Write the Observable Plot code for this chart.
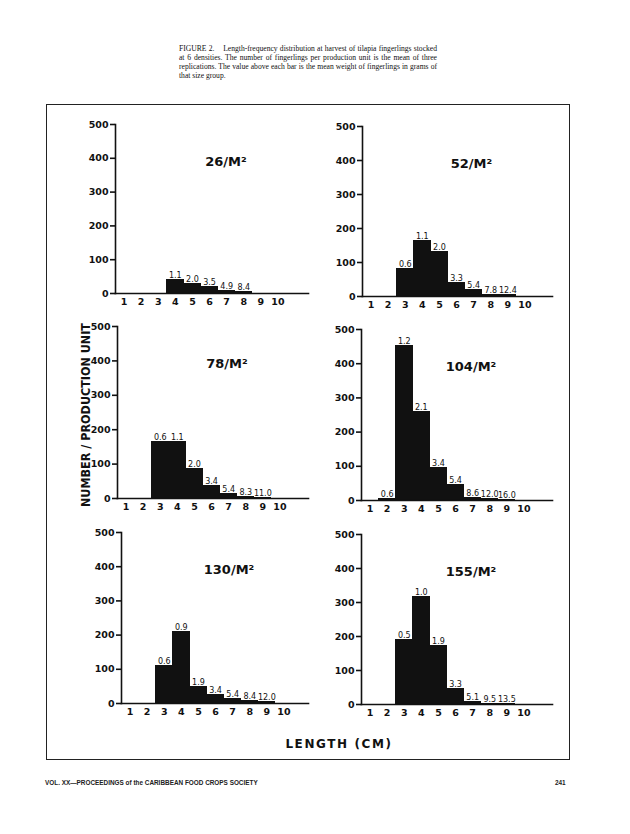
<!DOCTYPE html>
<html>
<head>
<meta charset="utf-8">
<script src="https://cdn.jsdelivr.net/npm/d3@7"></script>
<script src="https://cdn.jsdelivr.net/npm/@observablehq/plot@0.6"></script>
<style>
  html, body { margin: 0; padding: 0; background: #fff; }
  #page { position: relative; width: 630px; height: 834px; overflow: hidden; background: #fff; color: #111; }
  #caption { position: absolute; left: 179px; top: 44px; width: 258px; font-family: "Liberation Serif", "DejaVu Serif", serif; font-size: 7.6px; line-height: 9px; color: #111; }
  #caption div { text-align: justify; text-align-last: justify; white-space: nowrap; }
  #caption div.last { text-align-last: left; }
  #box { position: absolute; left: 46px; top: 104px; width: 522px; height: 654px; border: 1.5px solid #222; }
  .panel { position: absolute; }
  #ylabel { position: absolute; left: 76px; top: 318px; overflow: visible; }
  #xlabel { position: absolute; left: 339px; top: 744px; transform: translate(-50%, -50%); font-family: "DejaVu Sans", sans-serif; font-weight: bold; font-size: 12px; letter-spacing: 1.6px; white-space: nowrap; color: #111; }
  #footer { position: absolute; left: 45px; top: 779px; font-family: "Liberation Sans", sans-serif; font-weight: bold; font-size: 6.4px; color: #222; white-space: nowrap; }
  #pageno { position: absolute; left: 555px; top: 779px; font-family: "Liberation Sans", sans-serif; font-weight: bold; font-size: 6.4px; color: #222; }
</style>
</head>
<body>
<div id="page">
  <div id="caption">
    <div>FIGURE 2.&nbsp;&nbsp;&nbsp; Length-frequency distribution at harvest of tilapia fingerlings stocked</div>
    <div>at 6 densities. The number of fingerlings per production unit is the mean of three</div>
    <div>replications. The value above each bar is the mean weight of fingerlings in grams of</div>
    <div class="last">that size group.</div>
  </div>
  <div id="box"></div>
  <svg id="ylabel" width="20" height="195">
    <text transform="translate(13.5,97) rotate(-90)" text-anchor="middle" textLength="184" lengthAdjust="spacingAndGlyphs"
      font-family="DejaVu Sans, sans-serif" font-weight="bold" font-size="12.5" fill="#111">NUMBER / PRODUCTION UNIT</text>
  </svg>
  <div id="xlabel">LENGTH (CM)</div>
  <div id="footer">VOL. XX—PROCEEDINGS of the CARIBBEAN FOOD CROPS SOCIETY</div>
  <div id="pageno">241</div>
</div>
<script>
// ---- data ----
const lengths = [1, 2, 3, 4, 5, 6, 7, 8, 9, 10];
const xTicks = [1, 2, 3, 4, 5, 6, 7, 8, 9, 10];
const yTicks = [0, 100, 200, 300, 400, 500];

const titles = ["26/M²", "52/M²", "78/M²", "104/M²", "130/M²", "155/M²"];

// number of fingerlings per production unit, per length class (1..10 cm)
const count26  = [0, 0, 0,   40,  27,  20,  6,  3, 0, 0];
const count52  = [0, 0, 80,  162, 132, 41,  18, 5, 3, 0];
const count78  = [0, 0, 165, 165, 87,  36,  12, 3, 1, 0];
const count104 = [0, 5, 453, 258, 96,  44,  8,  4, 2, 0];
const count130 = [0, 0, 111, 209, 49,  25,  12, 7, 3, 0];
const count155 = [0, 0, 191, 316, 171, 46,  8,  2, 1, 0];

// mean weight (g) written above each bar
const weight26  = ["", "", "",    "1.1", "2.0", "3.5", "4.9", "8.4", "",     ""];
const weight52  = ["", "", "0.6", "1.1", "2.0", "3.3", "5.4", "7.8", "12.4", ""];
const weight78  = ["", "", "0.6", "1.1", "2.0", "3.4", "5.4", "8.3", "11.0", ""];
const weight104 = ["", "0.6", "1.2", "2.1", "3.4", "5.4", "8.6", "12.0", "16.0", ""];
const weight130 = ["", "", "0.6", "0.9", "1.9", "3.4", "5.4", "8.4", "12.0", ""];
const weight155 = ["", "", "0.5", "1.0", "1.9", "3.3", "5.1", "9.5", "13.5", ""];

const counts = [count26, count52, count78, count104, count130, count155];
const weights = [weight26, weight52, weight78, weight104, weight130, weight155];

// ---- layout (page pixels: y-axis x, y of 500, y of 0, end of baseline) ----
const layouts = [
  {ax: 115, y500: 124, y0: 293, xEnd: 308},
  {ax: 362, y500: 126, y0: 296, xEnd: 552},
  {ax: 117, y500: 326, y0: 498, xEnd: 308},
  {ax: 361, y500: 329, y0: 500, xEnd: 552},
  {ax: 121, y500: 532, y0: 703, xEnd: 308},
  {ax: 361, y500: 534, y0: 704, xEnd: 552}
];

const ML = 36, MR = 6, MT = 8, MB = 18;
const page = document.getElementById("page");

counts.forEach((cs, k) => {
  const L = layouts[k];
  const data = lengths.map((len, i) => ({len, count: cs[i], w: weights[k][i]})).filter(d => d.count > 0);
  const plotW = L.xEnd - L.ax;
  const unit = 17.1;
  const chart = Plot.plot({
    width: ML + plotW + MR,
    height: MT + (L.y0 - L.y500) + MB,
    marginLeft: ML, marginRight: MR, marginTop: MT, marginBottom: MB,
    x: {domain: [0.5, 0.5 + plotW / unit], axis: null},
    y: {domain: [0, 500], axis: null},
    style: {fontFamily: "DejaVu Sans, sans-serif", fontSize: "9.5px", fontWeight: "bold", color: "#111", background: "transparent", overflow: "visible"},
    marks: [
      Plot.rectY(data, {x1: d => d.len - 0.5, x2: d => d.len + 0.5, y1: 0, y2: "count", fill: "#111", stroke: "#111", strokeWidth: 1, inset: 0, shapeRendering: "crispEdges"}),
      Plot.frame({anchor: "left", stroke: "#111", strokeWidth: 1.6}),
      Plot.frame({anchor: "bottom", stroke: "#111", strokeWidth: 1.6}),
      Plot.axisY(yTicks, {label: null, tickSize: 5, tickPadding: 2, strokeWidth: 1.6, fontWeight: "bold", fontSize: 9.5, fill: "#111", tickFormat: d => String(d)}),
      Plot.axisX(xTicks, {label: null, tickSize: 0, tickPadding: 5, fontWeight: "bold", fontSize: 9.5, fill: "#111", tickFormat: d => String(d)}),
      Plot.text(data.filter(d => d.w), {x: "len", y: "count", text: "w", lineAnchor: "bottom", dy: -2, fontWeight: "normal", fontSize: 8, fill: "#111"}),
      Plot.text([titles[k]], {frameAnchor: "top", dx: 14, dy: 32, fontSize: 13, fontWeight: "bold", fill: "#111", text: d => d})
    ]
  });
  chart.classList.add("panel");
  chart.style.left = (L.ax - ML) + "px";
  chart.style.top = (L.y500 - MT) + "px";
  chart.style.position = "absolute";
  page.appendChild(chart);
});
</script>
</body>
</html>
